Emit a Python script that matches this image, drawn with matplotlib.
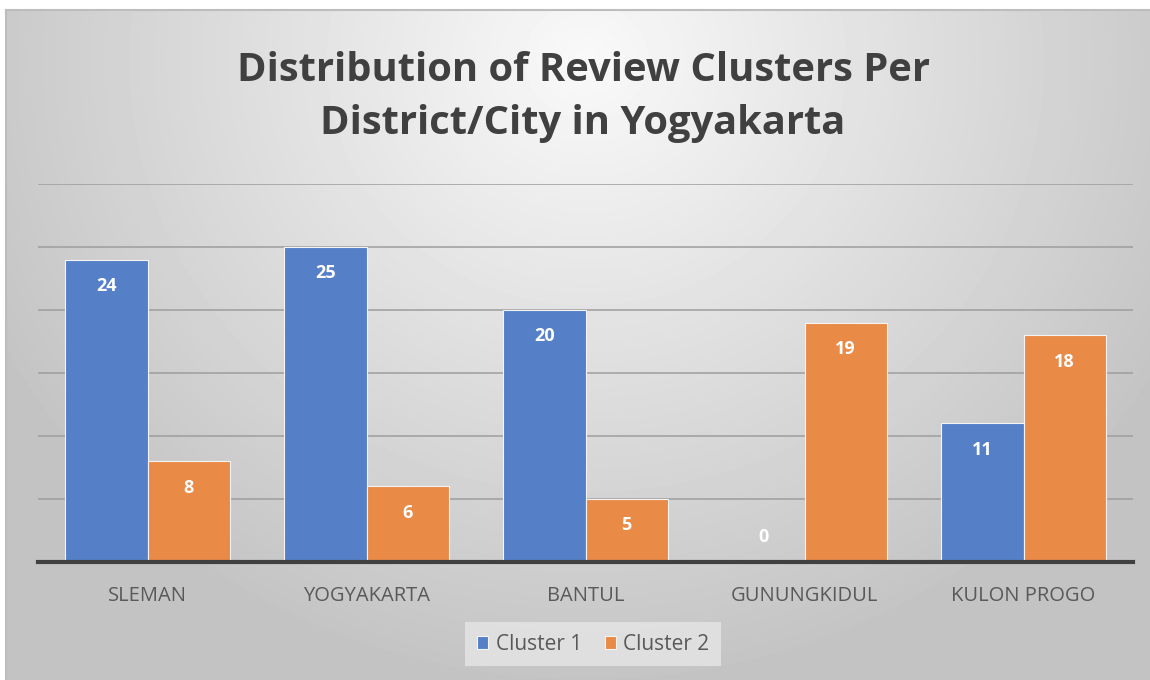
import matplotlib
matplotlib.use("Agg")
import matplotlib.pyplot as plt
import numpy as np

# data
districts = ["SLEMAN", "YOGYAKARTA", "BANTUL", "GUNUNGKIDUL", "KULON PROGO"]
cluster1 = [24, 25, 20, 0, 11]
cluster2 = [8, 6, 5, 19, 18]

blue = "#5580C8"
orange = "#E98A47"

plt.rcParams['font.family'] = ['Open Sans', 'DejaVu Sans']

fig = plt.figure(figsize=(11.5, 6.8), dpi=100)
fig.patch.set_facecolor("white")

# grey radial background of the chart area
bg = fig.add_axes([6 / 1150, 0, 1 - 6 / 1150, 1 - 10 / 680], zorder=0)
h, w = 670, 1144
yy, xx = np.mgrid[0:h, 0:w]
d = np.sqrt(((xx - 580) / 720.0) ** 2 + ((yy - 50) / 680.0) ** 2)
shade = np.clip(249 - 58 * d, 196, 250) / 255.0
bg.imshow(shade, cmap="gray", vmin=0, vmax=1, aspect="auto", interpolation="bilinear")
bg.set_xticks([])
bg.set_yticks([])
for s in bg.spines.values():
    s.set_color("#BDBDBD")
    s.set_linewidth(1.5)
bg.spines["right"].set_visible(False)
bg.spines["bottom"].set_visible(False)

ax = fig.add_axes([38 / 1150, 1 - 562 / 680, (1133 - 38) / 1150, (562 - 184) / 680], zorder=1)
ax.patch.set_alpha(0)

x = np.arange(len(districts))
bw = 0.375
b1 = ax.bar(x - bw / 2, cluster1, bw, color=blue, edgecolor="#F4F4F4", linewidth=0.8,
            label="Cluster 1", zorder=3)
b2 = ax.bar(x + bw / 2, cluster2, bw, color=orange, edgecolor="#F4F4F4", linewidth=0.8,
            label="Cluster 2", zorder=3)

for bars, vals in [(b1, cluster1), (b2, cluster2)]:
    for rect, v in zip(bars, vals):
        cx = rect.get_x() + rect.get_width() / 2
        off = -19 if v > 0 else 18
        ax.annotate(str(v), (cx, v), xytext=(0, off), textcoords="offset points",
                    ha="center", va="center", color="white", fontsize=13,
                    fontweight="bold", zorder=4)

ax.set_xlim(-0.5, len(districts) - 0.5)
ax.set_ylim(0, 30)
ax.set_yticks(range(5, 31, 5))
ax.yaxis.grid(True, color="#9E9E9E", linewidth=1.4, alpha=0.8, zorder=1)
ax.tick_params(axis="y", left=False, labelleft=False)
ax.tick_params(axis="x", length=0, pad=17, labelsize=14.5, labelcolor="#595959")
ax.set_xticks(x)
ax.set_xticklabels(districts)
for s in ["top", "right", "left"]:
    ax.spines[s].set_visible(False)
ax.spines["bottom"].set_color("#404040")
ax.spines["bottom"].set_linewidth(3)
ax.spines["bottom"].set_zorder(5)

fig.text(0.507, 1 - 97 / 680, "Distribution of Review Clusters Per\nDistrict/City in Yogyakarta",
         ha="center", va="center", fontsize=28.7, fontweight="bold", color="#404040",
         linespacing=1.45)

leg = ax.legend(loc="center", bbox_to_anchor=(0.507, -0.218), ncol=2, frameon=True,
                fontsize=15, handlelength=0.55, handleheight=0.55, handletextpad=0.35,
                columnspacing=1.1, borderpad=0.55, fancybox=False)
leg.get_frame().set_facecolor("#E6E6E6")
leg.get_frame().set_edgecolor("none")
for t in leg.get_texts():
    t.set_color("#595959")

fig.savefig("out.png", dpi=100)
